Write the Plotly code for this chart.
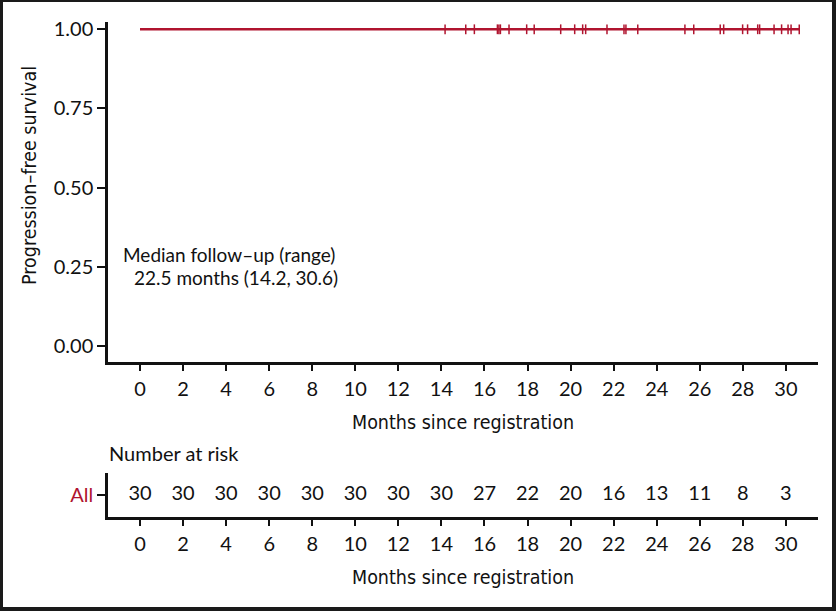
import plotly.graph_objects as go

# ---- data ----
censor_times = [14.17, 15.13, 15.53, 16.60, 16.67, 16.74, 17.14, 17.96, 18.31, 19.54,
                20.19, 20.56, 20.70, 21.69, 22.48, 22.57, 23.12, 25.31, 25.72, 26.95,
                27.11, 27.99, 28.22, 28.69, 28.78, 29.45, 29.80, 30.10, 30.24, 30.62]
censor_surv = [1.0] * len(censor_times)
curve_times = [0.0] + censor_times
curve_surv = [1.0] + censor_surv

risk_times = [0, 2, 4, 6, 8, 10, 12, 14, 16, 18, 20, 22, 24, 26, 28, 30]
risk_counts = [30, 30, 30, 30, 30, 30, 30, 30, 27, 22, 20, 16, 13, 11, 8, 3]
strata = ["All"]

y_ticks = [0.0, 0.25, 0.50, 0.75, 1.00]
x_ticks = list(range(0, 31, 2))

# ---- style ----
W, H = 836, 611
RED = "#B0142F"
TICK_FONT = dict(family="Lato, 'Noto Sans', sans-serif", size=20, color="#111")
NOTE_FONT = dict(family="Lato, 'Noto Sans', sans-serif", size=19, color="#111")
COND_FONT = dict(family="'Liberation Sans Narrow', 'DejaVu Sans Condensed', sans-serif", size=19.5, color="#111")

def px(x):
    return x / W

def py(y):
    return (H - y) / H

fig = go.Figure()

fig.add_trace(go.Scatter(x=curve_times, y=curve_surv, mode="lines",
                         line=dict(color=RED, width=2.6, shape="hv"),
                         xaxis="x", yaxis="y", showlegend=False, hoverinfo="skip"))
fig.add_trace(go.Scatter(x=censor_times, y=censor_surv, mode="markers",
                         marker=dict(symbol="line-ns", size=7, color=RED,
                                     line=dict(color=RED, width=1.5)),
                         xaxis="x", yaxis="y", showlegend=False, cliponaxis=False))

fig.add_trace(go.Scatter(x=risk_times, y=[0.5] * len(risk_times), mode="text",
                         text=[str(v) for v in risk_counts], textposition="middle center",
                         textfont=TICK_FONT, xaxis="x2", yaxis="y2",
                         showlegend=False, cliponaxis=False))

xr = [(108 - 140) / 21.53, (818 - 140) / 21.53]
common_x = dict(range=xr, tickvals=x_ticks, ticktext=[str(v) for v in x_ticks],
                ticks="outside", ticklen=6, tickwidth=2, tickcolor="#111",
                showline=True, linewidth=2.5, linecolor="#111", showgrid=False,
                zeroline=False, tickfont=TICK_FONT, automargin=False,
                ticklabelstandoff=1, domain=[px(108), px(818)])

fig.update_layout(
    width=W, height=H,
    margin=dict(l=0, r=0, t=0, b=0),
    paper_bgcolor="white", plot_bgcolor="white",
    xaxis=dict(**common_x, anchor="y"),
    yaxis=dict(range=[-0.0505, 1.023], domain=[py(362), py(22)],
               tickvals=y_ticks, ticktext=["%.2f" % v for v in y_ticks],
               ticks="outside", ticklen=8, tickwidth=2, tickcolor="#111",
               showline=True, linewidth=2.5, linecolor="#111", showgrid=False,
               zeroline=False, tickfont=TICK_FONT, automargin=False, anchor="x"),
    xaxis2=dict(**common_x, anchor="y2"),
    yaxis2=dict(range=[0, 1], domain=[py(517), py(472.7)],
                tickvals=[0.5], ticktext=strata,
                ticks="outside", ticklen=8, tickwidth=2, tickcolor="#111",
                showline=True, linewidth=2.5, linecolor="#111", showgrid=False,
                zeroline=False, tickfont=dict(TICK_FONT, color=RED),
                automargin=False, anchor="x2"),
)

ann = [
    dict(text="Progression\u2013free survival", x=px(30), y=py(176), textangle=-90,
         font=COND_FONT, xanchor="center", yanchor="middle"),
    dict(text="Months since registration", x=px(463), y=py(422),
         font=COND_FONT, xanchor="center", yanchor="middle"),
    dict(text="Months since registration", x=px(463), y=py(577),
         font=COND_FONT, xanchor="center", yanchor="middle"),
    dict(text="Number at risk", x=px(107), y=py(453),
         font=TICK_FONT, xanchor="left", yanchor="middle"),
    dict(text="Median follow\u2013up (range)", x=px(121), y=py(254),
         font=NOTE_FONT, xanchor="left", yanchor="middle"),
    dict(text="22.5 months (14.2, 30.6)", x=px(132), y=py(277),
         font=NOTE_FONT, xanchor="left", yanchor="middle"),
]
for a in ann:
    a.update(xref="paper", yref="paper", showarrow=False)
fig.update_layout(annotations=ann)

BORDER = "#1a1a1a"
for (x0, y0, x1, y1) in [(0, 0, 3, H), (0, 0, W, 2), (832, 0, W, H), (0, 607, W, H)]:
    fig.add_shape(type="rect", xref="paper", yref="paper",
                  x0=px(x0), x1=px(x1), y0=py(y1), y1=py(y0),
                  fillcolor=BORDER, line=dict(width=0), layer="above")

fig.write_html("out.html", config={"displayModeBar": False},
               post_script="document.body.style.margin='0px';")
